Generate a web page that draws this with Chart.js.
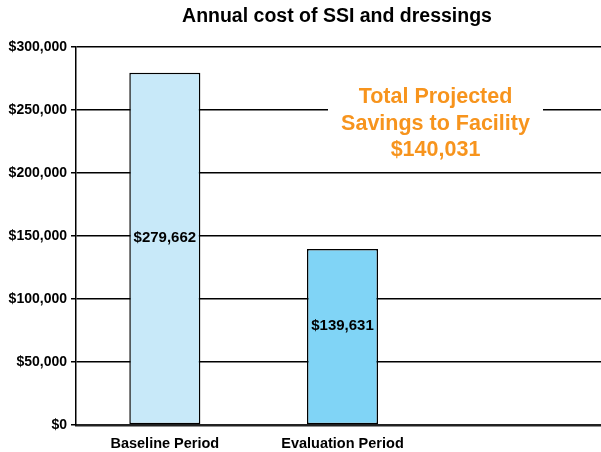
<!DOCTYPE html>
<html>
<head>
<meta charset="utf-8">
<script src="https://cdn.jsdelivr.net/npm/chart.js@4.4.0/dist/chart.umd.min.js"></script>
<style>
  html, body { margin: 0; padding: 0; background: #fff; overflow: hidden; }
  #wrap { width: 601px; height: 452px; overflow: hidden; }
</style>
</head>
<body>
<div id="wrap"><canvas id="myChart" width="609" height="452"></canvas></div>
<script>
// data
var categories = ['Baseline Period', 'Evaluation Period', ''];
var costs = [279662, 139631, null];
var barLabels = ['$279,662', '$139,631', ''];
var barColors = ['#c8e9f9', '#80d4f6', '#ffffff'];
var yTicks = [0, 50000, 100000, 150000, 200000, 250000, 300000];
var savingsText = ['Total Projected', 'Savings to Facility', '$140,031'];

var fontName = '"Liberation Sans", Arial, sans-serif';

function money(v) {
  return '$' + v.toLocaleString('en-US');
}

// title, bar labels and savings note
var extras = {
  id: 'extras',
  afterDatasetsDraw: function (chart) {
    var ctx = chart.ctx;
    ctx.save();

    // title
    ctx.fillStyle = '#000';
    ctx.font = 'bold 19.5px ' + fontName;
    ctx.textAlign = 'center';
    ctx.textBaseline = 'middle';
    ctx.fillText('Annual cost of SSI and dressings', 337, 17);

    // values inside the bars
    var meta = chart.getDatasetMeta(0);
    ctx.font = 'bold 15px ' + fontName;
    meta.data.forEach(function (bar, i) {
      if (!barLabels[i]) return;
      var mid = (bar.y + bar.base) / 2 - 11;
      ctx.fillText(barLabels[i], bar.x, mid);
    });

    // savings note with white box over the grid
    var cx = 435.5;
    var yTop = chart.scales.y.getPixelForValue(260000);
    ctx.fillStyle = '#fff';
    ctx.fillRect(328, yTop - 18, 215, 88);
    ctx.fillStyle = '#f7941d';
    ctx.font = 'bold 21.5px ' + fontName;
    for (var k = 0; k < savingsText.length; k++) {
      ctx.fillText(savingsText[k], cx, yTop + k * 26.5);
    }
    ctx.restore();
  }
};

var ctx = document.getElementById('myChart').getContext('2d');
var myChart = new Chart(ctx, {
  type: 'bar',
  data: {
    labels: categories,
    datasets: [{
      data: costs,
      backgroundColor: barColors,
      borderColor: '#000',
      borderWidth: 1.5,
      borderSkipped: false,
      barPercentage: 0.8,
      categoryPercentage: 0.5
    }]
  },
  options: {
    responsive: false,
    animation: false,
    devicePixelRatio: 1,
    layout: { padding: { top: 47, right: 0, left: 0, bottom: 0 } },
    plugins: {
      legend: { display: false },
      tooltip: { enabled: false },
      title: { display: false }
    },
    scales: {
      x: {
        grid: { display: false, drawTicks: false },
        border: { display: true, color: '#222', width: 2.5 },
        ticks: {
          color: '#000',
          padding: 10,
          font: { family: fontName, size: 14.5, weight: 'bold' }
        },
        afterFit: function (scale) { scale.height = 27; }
      },
      y: {
        min: 0,
        max: 300000,
        afterBuildTicks: function (scale) {
          scale.ticks = yTicks.map(function (v) { return { value: v }; });
        },
        grid: {
          color: '#000',
          lineWidth: 1.5,
          tickLength: 5,
          tickColor: '#000'
        },
        border: { display: true, color: '#000', width: 1.5 },
        ticks: {
          color: '#000',
          padding: 4,
          font: { family: fontName, size: 14, weight: 'bold' },
          callback: function (v) { return money(v); }
        },
        afterFit: function (scale) { scale.width = 76; }
      }
    }
  },
  plugins: [extras]
});
</script>
</body>
</html>
